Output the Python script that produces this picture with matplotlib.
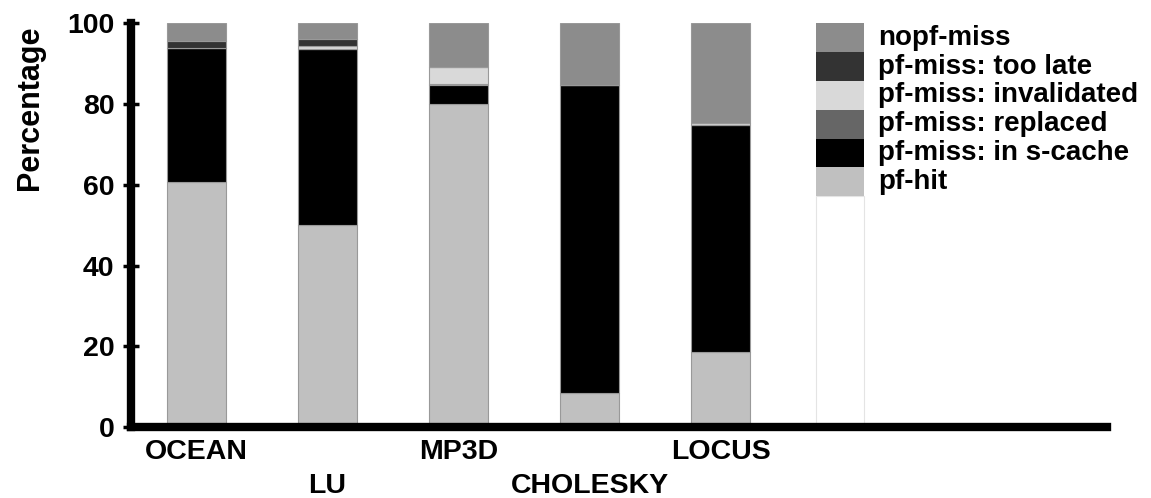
import numpy as np
import matplotlib
matplotlib.use("Agg")
import matplotlib.pyplot as plt

plt.rcParams['font.family'] = ['Liberation Sans', 'DejaVu Sans']
plt.rcParams['font.weight'] = 'bold'

apps = ['OCEAN', 'LU', 'MP3D', 'CHOLESKY', 'LOCUS']

# percentage of references per category, bottom to top
pf_hit      = [60.7, 50.1, 80.1,  8.3, 18.5]
in_scache   = [33.2, 43.6,  4.5, 76.4, 56.2]
replaced    = [ 0.0,  0.0,  0.3,  0.0,  0.0]
invalidated = [ 0.0,  0.6,  4.3,  0.0,  0.6]
too_late    = [ 1.6,  1.7,  0.0,  0.0,  0.0]
nopf_miss   = [ 4.5,  4.0, 10.8, 15.3, 24.7]

series = [pf_hit, in_scache, replaced, invalidated, too_late, nopf_miss]
names = ['pf-hit', 'pf-miss: in s-cache', 'pf-miss: replaced',
         'pf-miss: invalidated', 'pf-miss: too late', 'nopf-miss']
colors = ['#c0c0c0', '#000000', '#666666', '#d9d9d9', '#333333', '#8c8c8c']

fig = plt.figure(figsize=(11.51, 4.98), dpi=100)
ax = fig.add_axes([0.1138, 0.1426, 0.9618 - 0.1138, 0.8106])

x = np.arange(len(apps))
bottom = np.zeros(len(apps))
for vals, c in zip(series, colors):
    ax.bar(x, vals, 0.45, bottom=bottom, color=c, edgecolor='#999999', linewidth=0.8, zorder=2)
    bottom += np.array(vals)

# key drawn as a stacked column with labels beside it
kx, kw = 4.912, 0.366
ax.bar(kx, 100 * 8 / 14, kw, color='white', edgecolor='#e4e4e4', linewidth=0.8, zorder=1)
kb = 100 * 8 / 14
for name, c in zip(names, colors):
    ax.bar(kx, 100 / 14, kw, bottom=kb, color=c, linewidth=0, zorder=2)
    ax.text(5.2, kb + 50 / 14, name, fontsize=20, fontweight='bold', va='center', ha='left')
    kb += 100 / 14

ax.set_xlim(-0.5, 6.95)
ax.set_ylim(0, 100)
ax.set_yticks([0, 20, 40, 60, 80, 100])
ax.set_ylabel('Percentage', fontsize=22, fontweight='bold')
ax.yaxis.set_label_coords(-0.088, 0.79)

ax.set_xticks(x)
ax.set_xticklabels(apps, fontsize=20.5, fontweight='bold')
ax.tick_params(axis='x', length=0)
for i, t in enumerate(ax.xaxis.get_major_ticks()):
    t.set_pad(9 if i % 2 == 0 else 33)

ax.tick_params(axis='y', direction='inout', length=12, width=2.5, labelsize=20.5, pad=6)
for lab in ax.get_yticklabels():
    lab.set_fontweight('bold')

for s in ['top', 'right']:
    ax.spines[s].set_visible(False)
for s in ['left', 'bottom']:
    ax.spines[s].set_linewidth(6)
    ax.spines[s].set_zorder(3)

fig.savefig('out.png', dpi=100)
